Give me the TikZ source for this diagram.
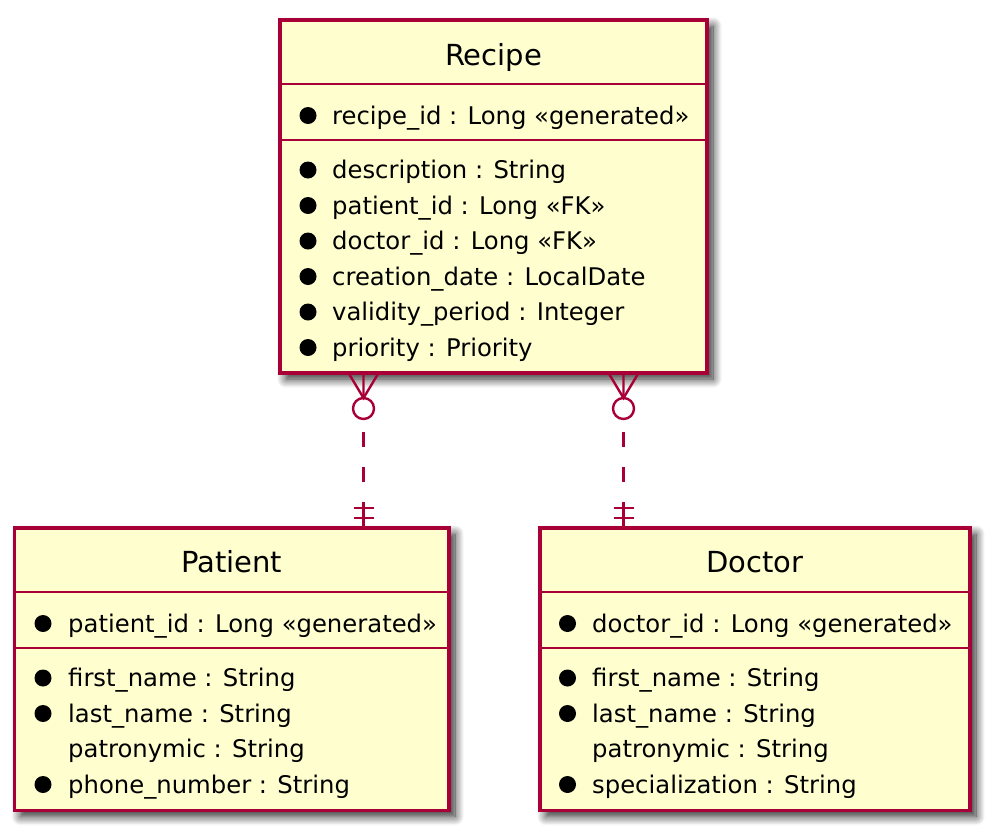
\documentclass[tikz,border=0pt]{standalone}
\usepackage{fontspec}
\setmainfont{DejaVu Sans}
\usetikzlibrary{shadows.blur}
\definecolor{umlred}{HTML}{A80036}
\definecolor{umlfill}{HTML}{FEFECE}
\tikzset{
	entity/.style={draw=umlred, fill=umlfill, line width=3.2pt, anchor=north west, inner sep=0pt, outer sep=0pt,
		blur shadow={shadow xshift=6pt, shadow yshift=-6pt, shadow blur radius=9pt, shadow blur steps=12, shadow opacity=85}},
	entname/.style={anchor=base, inner sep=0pt, font=\fontsize{29pt}{34pt}\selectfont},
	field/.style={anchor=base west, inner sep=0pt, font=\fontsize{24.3pt}{29pt}\selectfont},
	divider/.style={draw=umlred, line width=2.6pt},
	link/.style={draw=umlred, line width=2.4pt},
}
\begin{document}
\begin{tikzpicture}[x=1pt, y=-1pt]
	\useasboundingbox (0,0) rectangle (992,833);
	
	%Entity Recipe
	\node[entity, minimum width=427pt, minimum height=353pt] (R) at (280,20) {};
	\node[entname] (RT) at (493.5,65) {Recipe};
	\draw[divider] (280,84) -- (707,84);
	\draw[divider] (280,140) -- (707,140);
	\fill (308,115.5) circle (8.5pt);
	\node[field] (R1) at (332,124) {recipe\_id : Long «generated»};
	\fill (308,170) circle (8.5pt);
	\node[field] (R2) at (332,178.5) {description : String};
	\fill (308,205.5) circle (8.5pt);
	\node[field] (R3) at (332,214) {patient\_id : Long «FK»};
	\fill (308,241) circle (8.5pt);
	\node[field] (R4) at (332,249.5) {doctor\_id : Long «FK»};
	\fill (308,276.5) circle (8.5pt);
	\node[field] (R5) at (332,285) {creation\_date : LocalDate};
	\fill (308,312) circle (8.5pt);
	\node[field] (R6) at (332,320.5) {validity\_period : Integer};
	\fill (308,347.5) circle (8.5pt);
	\node[field] (R7) at (332,356) {priority : Priority};
	
	%Entity Patient
	\node[entity, minimum width=434.5pt, minimum height=282.5pt] (P) at (14.5,528) {};
	\node[entname] (PT) at (231.75,572) {Patient};
	\draw[divider] (14.5,592) -- (449,592);
	\draw[divider] (14.5,648) -- (449,648);
	\fill (43,623.5) circle (8.5pt);
	\node[field] (P1) at (68,632) {patient\_id : Long «generated»};
	\fill (43,678) circle (8.5pt);
	\node[field] (P2) at (68,686.5) {first\_name : String};
	\fill (43,713.5) circle (8.5pt);
	\node[field] (P3) at (68,722) {last\_name : String};
	\node[field] (P4) at (68,757.5) {patronymic : String};
	\fill (43,784.5) circle (8.5pt);
	\node[field] (P5) at (68,793) {phone\_number : String};
	
	%Entity Doctor
	\node[entity, minimum width=430pt, minimum height=282.5pt] (D) at (540,528) {};
	\node[entname] (DT) at (755,572) {Doctor};
	\draw[divider] (540,592) -- (970,592);
	\draw[divider] (540,648) -- (970,648);
	\fill (567.5,623.5) circle (8.5pt);
	\node[field] (D1) at (592,632) {doctor\_id : Long «generated»};
	\fill (567.5,678) circle (8.5pt);
	\node[field] (D2) at (592,686.5) {first\_name : String};
	\fill (567.5,713.5) circle (8.5pt);
	\node[field] (D3) at (592,722) {last\_name : String};
	\node[field] (D4) at (592,757.5) {patronymic : String};
	\fill (567.5,784.5) circle (8.5pt);
	\node[field] (D5) at (592,793) {specialization : String};
	
	%Recipe to Patient
	\coordinate (L) at (363.5,0);
	\draw[link] (R.south -| L) ++(-15,0) -- ++(15,25) -- ++(15,-25);
	\draw[link] (R.south -| L) -- ++(0,25) ++(0,10.5) circle (10.5pt);
	\draw[link, dash pattern=on 15pt off 20pt, dash phase=22pt] (R.south -| L) ++(0,46) -- ++(0,83);
	\draw[link] (P.north -| L) -- ++(0,-26);
	\draw[link] (P.north -| L) ++(-10,-10) -- ++(20,0) ++(-20,-10) -- ++(20,0);
	
	%Recipe to Doctor
	\coordinate (M) at (623.5,0);
	\draw[link] (R.south -| M) ++(-15,0) -- ++(15,25) -- ++(15,-25);
	\draw[link] (R.south -| M) -- ++(0,25) ++(0,10.5) circle (10.5pt);
	\draw[link, dash pattern=on 15pt off 20pt, dash phase=22pt] (R.south -| M) ++(0,46) -- ++(0,83);
	\draw[link] (D.north -| M) -- ++(0,-26);
	\draw[link] (D.north -| M) ++(-10,-10) -- ++(20,0) ++(-20,-10) -- ++(20,0);
	
\end{tikzpicture}
\end{document}
